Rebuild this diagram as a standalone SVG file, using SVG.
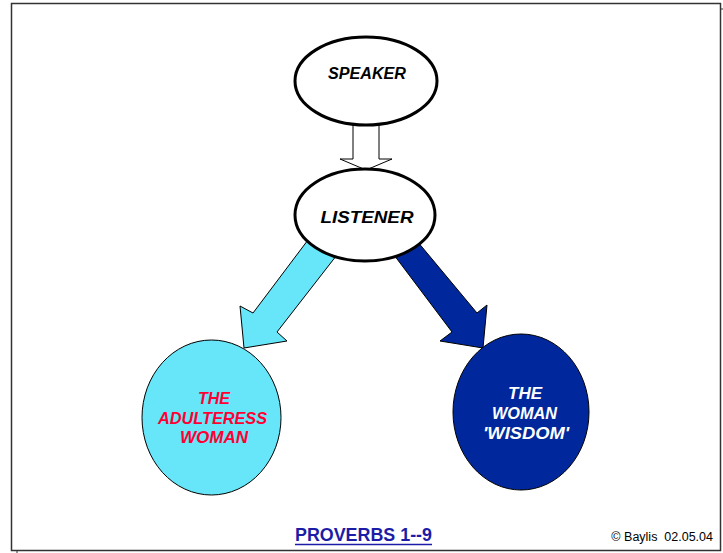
<svg xmlns="http://www.w3.org/2000/svg" width="723" height="553" viewBox="0 0 723 553">
<style>
.lbl{font-family:"Liberation Sans",Arial,sans-serif;font-weight:bold;font-style:italic;font-size:16px;text-anchor:middle}
.white{fill:#ffffff}
.blackt{fill:#000000}
.redt{fill:#ff0033}
.bold{stroke:#000;stroke-width:3;fill:#fff}
</style>
<rect x="11.5" y="3.5" width="709" height="547" fill="#fff" stroke="#333" stroke-width="1.5"/>
<line x1="17" y1="550" x2="17" y2="553" stroke="#333" stroke-width="1"/>
<line x1="720" y1="9" x2="723" y2="9" stroke="#333" stroke-width="1"/>
<g id="connectors">
<polygon points="353,115 379,115 379,159 392,159 366,170 340,159 353,159" fill="#fff" stroke="#000" stroke-width="1"/>
<polygon points="320,224 347,242 277,332 287,341 244,348 240,306 253,313" fill="#66e6f8" stroke="#000" stroke-width="1"/>
<polygon points="402,223 382,239 452,332 440,341 483,348 487,305 477,313" fill="#00289c" stroke="#000" stroke-width="1"/>
</g>
<g id="speaker">
<ellipse cx="366" cy="81" rx="71" ry="44" class="bold"/>
<text x="367" y="79" class="lbl blackt" textLength="78" lengthAdjust="spacingAndGlyphs">SPEAKER</text>
</g>
<g id="listener">
<ellipse cx="365" cy="215" rx="70" ry="46" class="bold"/>
<text x="367" y="223" class="lbl blackt" textLength="93" lengthAdjust="spacingAndGlyphs">LISTENER</text>
</g>
<g id="adulteress">
<ellipse cx="211.5" cy="417.5" rx="69.5" ry="77.5" fill="#66e6f8" stroke="#000" stroke-width="1"/>
<text x="214" y="404" class="lbl redt" textLength="32" lengthAdjust="spacingAndGlyphs">THE</text>
<text x="212.5" y="424" class="lbl redt" textLength="109" lengthAdjust="spacingAndGlyphs">ADULTERESS</text>
<text x="214" y="443" class="lbl redt" textLength="68" lengthAdjust="spacingAndGlyphs">WOMAN</text>
</g>
<g id="wisdom">
<ellipse cx="521" cy="412" rx="68" ry="78" fill="#00289c" stroke="#000" stroke-width="1"/>
<text x="525" y="399" class="lbl white" textLength="34" lengthAdjust="spacingAndGlyphs">THE</text>
<text x="524.5" y="419" class="lbl white" textLength="65" lengthAdjust="spacingAndGlyphs">WOMAN</text>
<text x="526" y="439" class="lbl white" textLength="86" lengthAdjust="spacingAndGlyphs">'WISDOM'</text>
</g>
<g id="footer">
<text x="295" y="541" font-family="Liberation Sans,Arial,sans-serif" font-weight="bold" font-size="18" fill="#1c1ca6" textLength="137" lengthAdjust="spacingAndGlyphs">PROVERBS 1--9</text>
<line x1="295" y1="544.5" x2="432" y2="544.5" stroke="#1c1ca6" stroke-width="1.5"/>
<text x="713" y="541" font-family="Liberation Sans,Arial,sans-serif" font-size="12.5" fill="#000" text-anchor="end" xml:space="preserve">© Baylis  02.05.04</text>
</g>
</svg>
